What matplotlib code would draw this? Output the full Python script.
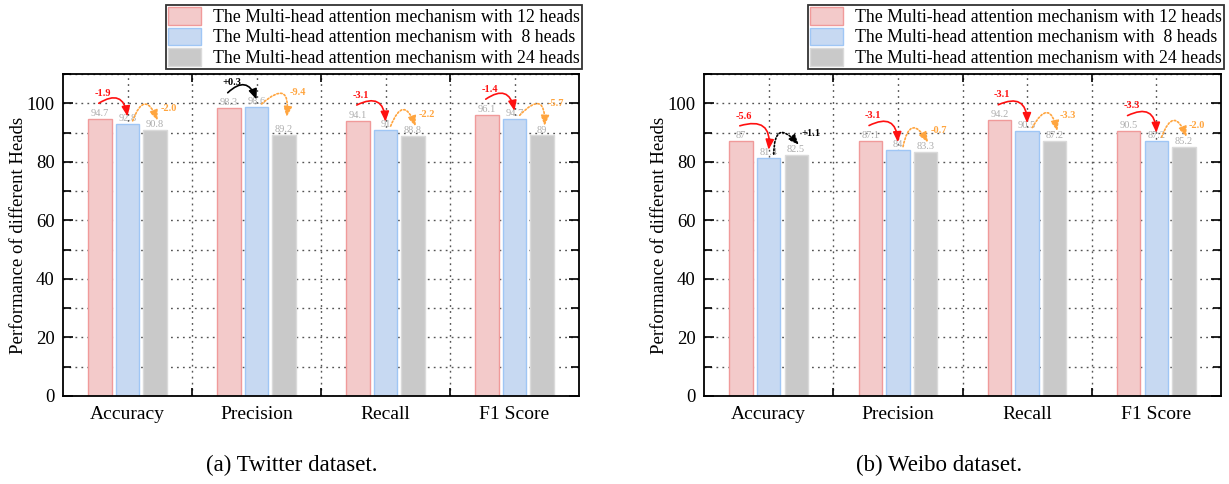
import matplotlib
matplotlib.use("Agg")
import matplotlib.pyplot as plt
from matplotlib.ticker import MultipleLocator, FixedLocator
from matplotlib.patches import Patch

plt.rcParams['font.family'] = ['Liberation Serif', 'DejaVu Serif']

categories = ["Accuracy", "Precision", "Recall", "F1 Score"]
series_names = ["The Multi-head attention mechanism with 12 heads",
                "The Multi-head attention mechanism with  8 heads",
                "The Multi-head attention mechanism with 24 heads"]

twitter_12 = [94.7, 98.3, 94.1, 96.1]
twitter_8 = [92.8, 98.6, 91.0, 94.7]
twitter_24 = [90.8, 89.2, 88.8, 89.0]
twitter_diff_12_8 = ["-1.9", "+0.3", "-3.1", "-1.4"]
twitter_diff_8_24 = ["-2.0", "-9.4", "-2.2", "-5.7"]

weibo_12 = [87.0, 87.1, 94.2, 90.5]
weibo_8 = [81.4, 84.0, 90.5, 87.2]
weibo_24 = [82.5, 83.3, 87.2, 85.2]
weibo_diff_12_8 = ["-5.6", "-3.1", "-3.1", "-3.3"]
weibo_diff_8_24 = ["+1.1", "-0.7", "-3.3", "-2.0"]

value_text = {
    "twitter": [["94.7", "98.3", "94.1", "96.1"], ["92.8", "98.6", "91", "94.7"], ["90.8", "89.2", "88.8", "89"]],
    "weibo": [["87", "87.1", "94.2", "90.5"], ["81.4", "84", "90.5", "87.2"], ["82.5", "83.3", "87.2", "85.2"]],
}

captions = ["(a) Twitter dataset.", "(b) Weibo dataset."]
ylabel = "Performance of different Heads"

face_colors = ["#f3caca", "#c7d9f2", "#c9c9c9"]
edge_colors = ["#f09a9a", "#9fc6f5", "#dadada"]

fig = plt.figure(figsize=(12.29, 4.84), dpi=100)
ax1 = fig.add_axes([63/1229, 1-396/484, 516/1229, 322/484])
ax2 = fig.add_axes([704/1229, 1-396/484, 517/1229, 322/484])

offset = 0.213
width = 0.18
HEAD = "-|>,head_length=0.6,head_width=0.25"


def draw_panel(ax, vals, diffs1, diffs2, texts):
    ax.set_axisbelow(True)
    for j, v in enumerate(vals):
        xs = [i + (j - 1) * offset for i in range(len(categories))]
        ax.bar(xs, v, width=width, color=face_colors[j], edgecolor=edge_colors[j],
               linewidth=1.0, label=series_names[j], zorder=2)
        for x, val, t in zip(xs, v, texts[j]):
            ax.text(x, val + 0.3, t, ha='center', va='bottom', fontsize=7.5,
                    color='#adadad', zorder=3)
    v12, v8, v24 = vals
    for i in range(len(categories)):
        xr, xb, xg = i - offset, i, i + offset
        # pair 1: 12 -> 8 (solid)
        d1 = diffs1[i]
        col1 = 'black' if d1.startswith('+') else '#ff1010'
        y0 = v12[i] + 5.3
        y1 = v8[i] + 2.7
        ax.annotate("", xy=(xb, y1), xytext=(xr - 0.01, y0),
                    arrowprops=dict(arrowstyle=HEAD,
                                    color=col1, lw=1.2, shrinkA=0, shrinkB=0,
                                    connectionstyle="arc3,rad=-0.75"), zorder=4)
        ax.text(xr + 0.02, y0 + 1.8, d1, ha='center', va='bottom', fontsize=7.5,
                color=col1, fontweight='bold', zorder=4)
        # pair 2: 8 -> 24 (dotted)
        d2 = diffs2[i]
        col2 = 'black' if d2.startswith('+') else '#ffa53f'
        y0b = v8[i] + 1.2
        y1b = max(v24[i] + 3.3, v8[i] - 3.3)
        ax.annotate("", xy=(xg + 0.02, y1b), xytext=(xb + 0.04, y0b),
                    arrowprops=dict(arrowstyle=HEAD,
                                    color=col2, lw=1.2, shrinkA=0, shrinkB=0,
                                    linestyle=(0, (1.0, 1.2)),
                                    connectionstyle="arc3,rad=-1.3"), zorder=4)
        ax.text(xg + 0.04, max(y0b, y1b) + 4.0, d2, ha='left', va='center', fontsize=7.5,
                color=col2, fontweight='bold', zorder=4)

    ax.set_xlim(-0.5, len(categories) - 0.5)
    ax.set_ylim(0, 110)
    ax.set_xticks(range(len(categories)))
    ax.set_xticklabels(categories, fontsize=14)
    ax.xaxis.set_minor_locator(FixedLocator([0.5, 1.5, 2.5]))
    ax.yaxis.set_major_locator(MultipleLocator(20))
    ax.yaxis.set_minor_locator(MultipleLocator(10))
    ax.tick_params(axis='y', which='both', direction='in', left=True, right=True,
                   labelsize=13.5, pad=6, width=1.2)
    ax.tick_params(axis='y', which='major', length=7)
    ax.tick_params(axis='y', which='minor', length=6)
    ax.tick_params(axis='x', which='major', length=0, pad=7, labelsize=14)
    ax.tick_params(axis='x', which='minor', direction='in', top=True, bottom=True,
                   length=6, width=1.2)
    ax.grid(True, which='both', axis='both', color='#555555', linestyle=(0, (1.3, 3)),
            linewidth=1.0)
    for s in ax.spines.values():
        s.set_linewidth(1.3)
        s.set_color('black')
    ax.set_ylabel(ylabel, fontsize=13.5, labelpad=0)
    handles = [Patch(facecolor=face_colors[j], edgecolor=edge_colors[j], linewidth=1.0)
               for j in range(3)]
    leg = ax.legend(handles, series_names, loc='lower right',
                    bbox_to_anchor=(1.006, 1.015), bbox_transform=ax.transAxes,
                    fontsize=12.8, frameon=True, fancybox=False, framealpha=1,
                    edgecolor='#333333', handlelength=1.85, handleheight=1.15,
                    labelspacing=0.1, borderpad=0.12, handletextpad=0.7,
                    borderaxespad=0)
    leg.get_frame().set_linewidth(1.3)


draw_panel(ax1, [twitter_12, twitter_8, twitter_24], twitter_diff_12_8, twitter_diff_8_24,
           value_text["twitter"])
draw_panel(ax2, [weibo_12, weibo_8, weibo_24], weibo_diff_12_8, weibo_diff_8_24,
           value_text["weibo"])

fig.text(292/1229, 1-465/484, captions[0], ha='center', va='center', fontsize=16.5)
fig.text(939/1229, 1-465/484, captions[1], ha='center', va='center', fontsize=16.5)

fig.savefig("out.png", dpi=100)
